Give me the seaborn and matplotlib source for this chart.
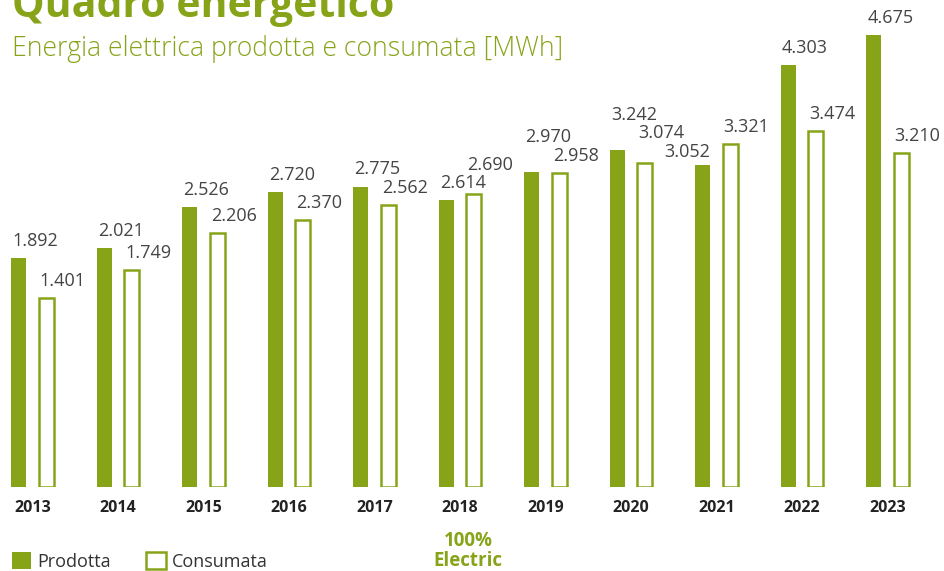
import pandas as pd
import numpy as np
import seaborn as sns
import matplotlib.pyplot as plt
from matplotlib.patches import Patch

anni = ['2013', '2014', '2015', '2016', '2017', '2018', '2019', '2020', '2021', '2022', '2023']
prodotta = [1892, 2021, 2526, 2720, 2775, 2614, 2970, 3242, 3052, 4303, 4675]
consumata = [1401, 1749, 2206, 2370, 2562, 2690, 2958, 3074, 3321, 3474, 3210]

verde = '#87a419'
grigio = '#444444'
base = -960  # le barre partono sotto lo zero, come nel grafico originale

df = pd.DataFrame({
    'Anno': anni * 2,
    'Serie': ['Prodotta'] * len(anni) + ['Consumata'] * len(anni),
    'MWh': prodotta + consumata,
})

sns.set_style('white')
plt.rcParams['font.family'] = ['Open Sans', 'DejaVu Sans']

fig = plt.figure(figsize=(9.44, 5.71), dpi=100)
ax = fig.add_axes([0, 1 - 487 / 571, 1, 487 / 571])

sns.barplot(data=df, x='Anno', y='MWh', hue='Serie', palette=[verde, verde],
            width=0.64, gap=0.45, legend=False, ax=ax, saturation=1)

ax.set_xlim(-0.38, 10.66)
ax.set_ylim(base, 5112)

n = len(anni)
barre = ax.patches[:2 * n]
for i, p in enumerate(barre):
    h = p.get_height()
    p.set_y(base)
    p.set_height(h - base)
    if i >= n:
        p.set_facecolor('white')
        p.set_edgecolor(verde)
        p.set_linewidth(1.8)
    else:
        p.set_edgecolor('none')

# etichette sopra le barre; se la barra "Consumata" è nettamente più alta,
# l'etichetta "Prodotta" si allinea a destra
px_per_unit = ax.transData.transform((0, 1))[1] - ax.transData.transform((0, 0))[1]
etichette = []
for j in range(n):
    vals = [prodotta[j], consumata[j]]
    destra = (vals[1] - vals[0]) * px_per_unit > 8
    for k, p in enumerate([barre[j], barre[n + j]]):
        x, ha, dx, dy = p.get_x(), 'left', 1, 12
        if k == 0 and destra:
            x, ha, dx, dy = p.get_x() + p.get_width(), 'right', 0, 8
        a = ax.annotate(f'{vals[k]:,}'.replace(',', '.'), xy=(x, vals[k]),
                        xytext=(dx, dy), textcoords='offset pixels',
                        ha=ha, va='baseline', fontsize=13, color=grigio)
        etichette.append(a)

# etichette sovrapposte: sale quella che sta più in alto
fig.canvas.draw()
r = fig.canvas.get_renderer()
for _ in range(300):
    boxes = [a.get_window_extent(r) for a in etichette]
    mosso = False
    for i in range(len(etichette)):
        for j in range(i + 1, len(etichette)):
            if boxes[i].overlaps(boxes[j]):
                su = etichette[i] if boxes[i].y0 >= boxes[j].y0 else etichette[j]
                su.xyann = (su.xyann[0], su.xyann[1] + 1)
                mosso = True
                break
        if mosso:
            break
    if not mosso:
        break

ax.set_xlabel('')
ax.set_ylabel('')
ax.set_yticks([])
ax.tick_params(axis='x', length=0, pad=9)
for t in ax.get_xticklabels():
    t.set_fontweight('bold')
    t.set_fontsize(11.5)
    t.set_color('#222222')
sns.despine(ax=ax, left=True, bottom=True)

fig.text(12 / 944, 1 - 17 / 571, 'Quadro energetico', fontsize=29.5, fontweight='bold',
         color=verde, va='baseline', ha='left')
fig.text(12 / 944, 1 - 56 / 571, 'Energia elettrica prodotta e consumata [MWh]', fontsize=19.2,
         fontweight='light', color=verde, va='baseline', ha='left')
fig.text(468 / 944, 1 - 551 / 571, '100%\nElectric', fontsize=13.5, fontweight='bold',
         color=verde, ha='center', va='center', linespacing=1.0)

handles = [Patch(facecolor=verde, edgecolor='none'),
           Patch(facecolor='white', edgecolor=verde, linewidth=1.8)]
leg = fig.legend(handles, ['Prodotta', 'Consumata'], loc='lower left',
                 bbox_to_anchor=(-0.005, -0.028), ncol=2, frameon=False, fontsize=13,
                 handlelength=1.1, handleheight=1.1, handletextpad=0.35, columnspacing=1.9)
for t in leg.get_texts():
    t.set_color('#333333')

fig.savefig('out.png', dpi=100)
